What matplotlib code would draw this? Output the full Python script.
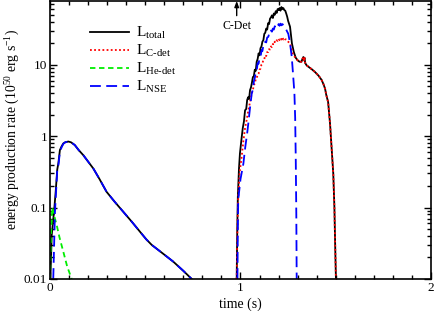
import matplotlib
matplotlib.use("Agg")
import matplotlib.pyplot as plt
from matplotlib.ticker import MultipleLocator, LogLocator, NullFormatter, FixedLocator

plt.rcParams['font.family'] = ['Liberation Serif', 'DejaVu Serif']
plt.rcParams['mathtext.fontset'] = 'custom'
plt.rcParams['mathtext.rm'] = 'Liberation Serif'
plt.rcParams['mathtext.it'] = 'Liberation Serif:italic'

# first burst (He detonation + early NSE)
t_tot1 = [0.002, 0.009, 0.023, 0.030, 0.038, 0.044, 0.052, 0.061, 0.070, 0.080, 0.096,
          0.110, 0.130, 0.150, 0.175, 0.200, 0.228, 0.260, 0.297, 0.340, 0.385, 0.430,
          0.472, 0.505, 0.534, 0.590, 0.647, 0.700, 0.744]
L_tot1 = [0.01, 0.041, 0.10, 0.17, 0.34, 0.42, 0.64, 0.72, 0.79, 0.82, 0.84,
          0.82, 0.75, 0.64, 0.54, 0.44, 0.35, 0.25, 0.166, 0.12, 0.087, 0.063,
          0.046, 0.036, 0.030, 0.023, 0.0175, 0.013, 0.01]

t_nse1 = [0.017, 0.026, 0.038, 0.044, 0.052, 0.061, 0.070, 0.080, 0.096,
          0.110, 0.130, 0.150, 0.175, 0.200, 0.228, 0.260, 0.297, 0.340, 0.385, 0.430,
          0.472, 0.505, 0.534, 0.590, 0.647, 0.700, 0.744]
L_nse1 = [0.01, 0.087, 0.335, 0.39, 0.60, 0.70, 0.78, 0.82, 0.84,
          0.82, 0.75, 0.64, 0.54, 0.44, 0.35, 0.25, 0.166, 0.12, 0.087, 0.063,
          0.046, 0.036, 0.030, 0.023, 0.0175, 0.013, 0.01]

t_he = [0.0, 0.005, 0.012, 0.020, 0.035, 0.050, 0.070, 0.090, 0.114]
L_he = [0.01, 0.04, 0.10, 0.08, 0.057, 0.038, 0.024, 0.015, 0.01]

# second burst (C detonation)
t_tot2 = [0.980, 0.983, 0.986, 0.992, 0.997, 1.005, 1.012, 1.018, 1.024, 1.030, 1.035,
          1.040, 1.045, 1.050, 1.055, 1.060, 1.065, 1.070, 1.075, 1.080, 1.085, 1.090,
          1.095, 1.100, 1.105, 1.110, 1.115, 1.120, 1.125, 1.130, 1.135, 1.140, 1.145,
          1.150, 1.155, 1.160, 1.165, 1.170, 1.175, 1.180, 1.185, 1.190, 1.195, 1.200,
          1.205, 1.210, 1.215, 1.220, 1.225, 1.230, 1.235, 1.240, 1.245, 1.250, 1.260,
          1.265, 1.270, 1.280, 1.290, 1.300, 1.310, 1.320, 1.325, 1.330, 1.333, 1.336,
          1.340, 1.347, 1.360, 1.375, 1.391, 1.410, 1.426, 1.436, 1.444, 1.450, 1.460,
          1.470, 1.479, 1.487, 1.493, 1.497, 1.501]
L_tot2 = [0.01, 0.05, 0.14, 0.35, 0.57, 0.9, 1.3, 1.6, 2.3, 2.4, 3.2,
          3.5, 3.3, 4.4, 4.8, 5.6, 6.7, 6.9, 8.5, 8.2, 11, 12,
          14.4, 13.5, 17, 18, 21, 22, 27, 28, 32, 31, 38,
          37, 44, 46, 49, 45, 52, 50, 56, 53, 60, 58,
          62, 57, 64, 60, 62, 58, 57, 52, 47, 41, 34,
          26, 19.8, 15, 12.5, 11.5, 11, 11, 12, 12.8, 11.5, 12.5,
          10.5, 9.8, 9.2, 8.6, 7.9, 7.0, 6.1, 5.3, 4.6, 3.8, 3.0,
          1.5, 0.64, 0.30, 0.10, 0.03, 0.01]

t_c2 = [0.980, 0.984, 0.987, 0.995, 1.006, 1.015, 1.024, 1.032, 1.040, 1.050, 1.059,
        1.065, 1.070, 1.076, 1.080, 1.085, 1.090, 1.095, 1.100, 1.105, 1.110, 1.115,
        1.120, 1.125, 1.130, 1.135, 1.140, 1.145, 1.150, 1.155, 1.160, 1.165, 1.170,
        1.175, 1.180, 1.185, 1.190, 1.195, 1.200, 1.205, 1.210, 1.215, 1.220, 1.225,
        1.230, 1.235, 1.240, 1.250, 1.260, 1.270, 1.277, 1.290, 1.300, 1.310, 1.320,
        1.325, 1.330, 1.333, 1.336, 1.340, 1.347, 1.360, 1.375, 1.391, 1.410, 1.426,
        1.436, 1.444, 1.450, 1.460, 1.470, 1.479, 1.487, 1.493, 1.497, 1.501]
L_c2 = [0.01, 0.05, 0.12, 0.30, 0.51, 0.85, 1.3, 1.67, 2.2, 3.0, 3.95,
        4.4, 5.2, 5.5, 6.3, 6.5, 7.2, 7.5, 8.5, 8.8, 10, 10.3,
        11.8, 12, 13.5, 13.2, 15, 15, 16.5, 16.3, 18, 17.7, 19.5,
        19, 21, 20.5, 22, 21.5, 23, 22, 23.5, 22.5, 24, 22.5,
        23.5, 22.5, 22.5, 21, 19.8, 16, 13.5, 12.5, 11.5, 11, 11,
        12, 12.8, 11.5, 12.5, 10.5, 9.8, 9.2, 8.6, 7.9, 7.0, 6.1,
        5.3, 4.6, 3.8, 3.0, 1.5, 0.64, 0.30, 0.10, 0.03, 0.01]

t_nse2 = [0.984, 0.986, 0.988, 1.000, 1.015, 1.025, 1.035, 1.041, 1.050, 1.059, 1.065,
          1.070, 1.076, 1.080, 1.085, 1.090, 1.095, 1.100, 1.105, 1.111, 1.115, 1.120,
          1.125, 1.130, 1.135, 1.140, 1.146, 1.150, 1.155, 1.160, 1.165, 1.170, 1.175,
          1.180, 1.185, 1.190, 1.195, 1.200, 1.205, 1.210, 1.215, 1.220, 1.225, 1.235,
          1.245, 1.251, 1.260, 1.269, 1.277, 1.283, 1.287, 1.290, 1.293, 1.295]
L_nse2 = [0.01, 0.05, 0.128, 0.25, 0.41, 0.7, 1.1, 1.5, 2.5, 3.95, 4.5,
          5.8, 6.7, 8, 8.3, 10.5, 10.3, 12.5, 12.8, 16, 15.5, 18.5,
          18.5, 21, 20.5, 24, 24.5, 27, 26.5, 30, 29, 32, 31,
          34.5, 33, 35, 34, 37, 35, 37.5, 35.5, 37, 35.7, 33,
          29, 27, 20, 12.9, 6.7, 4.0, 1.8, 0.51, 0.08, 0.01]

fig = plt.figure(figsize=(4.36, 3.11), dpi=100)
ax = fig.add_axes([0.1147, 0.1029, 0.8738, 0.8941])

ax.plot(t_tot1, L_tot1, color='black', lw=1.3, label=r'L$_{\rm total}$')
ax.plot(t_tot2, L_tot2, color='black', lw=1.3)
ax.plot(t_c2, L_c2, color='red', lw=1.3, ls=(0, (1, 1.3)), label=r'L$_{\rm C\text{-}det}$')
ax.plot(t_he, L_he, color='#00ee00', lw=1.3, ls=(0, (3, 2)), label=r'L$_{\rm He\text{-}det}$')
ax.plot(t_nse1, L_nse1, color='blue', lw=1.3, ls=(0, (6, 3)), label=r'L$_{\rm NSE}$')
ax.plot(t_nse2, L_nse2, color='blue', lw=1.3, ls=(0, (6, 3)))

ax.set_yscale('log')
ax.set_xlim(0, 2)
ax.set_ylim(0.01, 78)
ax.xaxis.set_major_locator(FixedLocator([0, 1, 2]))
ax.xaxis.set_minor_locator(MultipleLocator(0.1))
ax.yaxis.set_major_locator(FixedLocator([0.01, 0.1, 1, 10]))
ax.yaxis.set_minor_locator(LogLocator(base=10, subs=range(2, 10)))
ax.yaxis.set_minor_formatter(NullFormatter())
ax.set_yticklabels(['0.01', '0.1', '1', '10'])
ax.set_xticklabels(['0', '1', '2'])
ax.tick_params(which='both', direction='in', top=True, right=True, labelsize=9.5)
ax.tick_params(which='major', length=5, width=1, pad=2)
ax.tick_params(which='minor', length=3, width=1)
for s in ax.spines.values():
    s.set_linewidth(1.2)

ax.set_xlabel('time (s)', fontsize=10)
ax.xaxis.set_label_coords(0.5, -0.066)
ax.set_ylabel(r'energy production rate (10$^{50}$ erg s$^{-1}$)', fontsize=9.8)
ax.yaxis.set_label_coords(-0.074, 0.536)

ax.annotate('C-Det', xy=(0.98, 78), xytext=(0.98, 35), ha='center', va='center', fontsize=8.5,
            arrowprops=dict(arrowstyle='-|>,head_length=0.4,head_width=0.15', color='black', lw=1,
                            shrinkA=1, shrinkB=0))

ax.legend(loc='upper left', bbox_to_anchor=(0.09, 0.935), frameon=False, fontsize=11,
          handlelength=2.5, handletextpad=0.5, labelspacing=0.12, borderaxespad=0)

fig.savefig('out.png', dpi=100)
